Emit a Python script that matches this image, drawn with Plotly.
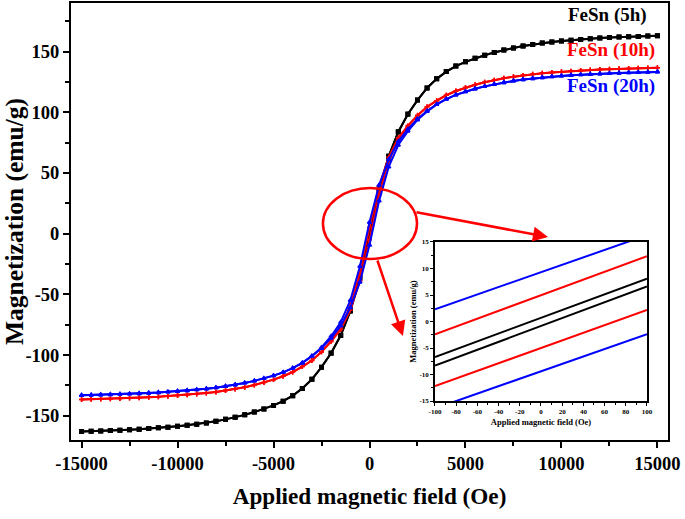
import plotly.graph_objects as go

# Applied field grid (Oe)
field = [-15000, -14500, -14000, -13500, -13000, -12500, -12000, -11500, -11000, -10500,
         -10000, -9500, -9000, -8500, -8000, -7500, -7000, -6500, -6000, -5500,
         -5000, -4500, -4000, -3500, -3000, -2500, -2000, -1500, -1000, -500,
         0,
         500, 1000, 1500, 2000, 2500, 3000, 3500, 4000, 4500, 5000,
         5500, 6000, 6500, 7000, 7500, 8000, 8500, 9000, 9500, 10000,
         10500, 11000, 11500, 12000, 12500, 13000, 13500, 14000, 14500, 15000]

# FeSn (5h): descending and ascending branches (emu/g)
m5_down = [-163.0, -162.8, -162.5, -162.2, -161.9, -161.5, -161.1, -160.6, -160.0, -159.4,
           -158.7, -157.9, -157.0, -155.9, -154.6, -153.0, -151.3, -149.3, -147.0, -144.5,
           -141.5, -138.0, -133.5, -127.5, -120.0, -110.0, -98.3, -83.7, -63.4, -35.8,
           0.7,
           37.0, 64.0, 84.0, 98.5, 110.0, 120.0, 127.5, 133.5, 138.0, 141.5,
           144.5, 147.0, 149.3, 151.3, 153.0, 154.6, 155.9, 157.0, 157.9, 158.7,
           159.4, 160.0, 160.6, 161.1, 161.5, 161.9, 162.2, 162.5, 162.8, 163.0]
m5_up = [-163.0, -162.8, -162.5, -162.2, -161.9, -161.5, -161.1, -160.6, -160.0, -159.4,
         -158.7, -157.9, -157.0, -155.9, -154.6, -153.0, -151.3, -149.3, -147.0, -144.5,
         -141.5, -138.0, -133.5, -127.5, -120.0, -110.0, -98.5, -84.0, -64.0, -37.0,
         -0.8,
         35.8, 63.4, 83.7, 98.3, 110.0, 120.0, 127.5, 133.5, 138.0, 141.5,
         144.5, 147.0, 149.3, 151.3, 153.0, 154.6, 155.9, 157.0, 157.9, 158.7,
         159.4, 160.0, 160.6, 161.1, 161.5, 161.9, 162.2, 162.5, 162.8, 163.0]

# FeSn (10h)
m10_down = [-136.7, -136.5, -136.3, -136.1, -135.8, -135.5, -135.2, -134.8, -134.4, -133.9,
            -133.4, -132.8, -132.1, -131.3, -130.4, -129.3, -128.0, -126.5, -124.7, -122.6,
            -120.3, -117.5, -114.0, -109.5, -104.5, -97.2, -88.3, -77.5, -59.5, -32.0,
            5.0,
            39.0, 63.0, 79.0, 89.0, 97.5, 104.5, 109.5, 114.0, 117.5, 120.3,
            122.6, 124.7, 126.5, 128.0, 129.3, 130.4, 131.3, 132.1, 132.8, 133.4,
            133.9, 134.4, 134.8, 135.2, 135.5, 135.8, 136.1, 136.3, 136.5, 136.7]
m10_up = [-136.7, -136.5, -136.3, -136.1, -135.8, -135.5, -135.2, -134.8, -134.4, -133.9,
          -133.4, -132.8, -132.1, -131.3, -130.4, -129.3, -128.0, -126.5, -124.7, -122.6,
          -120.3, -117.5, -114.0, -109.5, -104.5, -97.5, -89.0, -79.0, -63.0, -39.0,
          -5.0,
          32.0, 59.5, 77.5, 88.3, 97.2, 104.5, 109.5, 114.0, 117.5, 120.3,
          122.6, 124.7, 126.5, 128.0, 129.3, 130.4, 131.3, 132.1, 132.8, 133.4,
          133.9, 134.4, 134.8, 135.2, 135.5, 135.8, 136.1, 136.3, 136.5, 136.7]

# FeSn (20h)
m20_down = [-133.2, -133.0, -132.8, -132.6, -132.3, -132.0, -131.7, -131.3, -130.9, -130.4,
            -129.9, -129.3, -128.6, -127.8, -126.9, -125.8, -124.5, -123.0, -121.3, -119.3,
            -117.0, -114.3, -110.8, -106.5, -100.7, -93.8, -84.5, -73.0, -55.0, -27.0,
            9.3,
            40.0, 61.0, 76.0, 86.0, 94.5, 101.0, 106.5, 110.8, 114.3, 117.0,
            119.3, 121.3, 123.0, 124.5, 125.8, 126.9, 127.8, 128.6, 129.3, 129.9,
            130.4, 130.9, 131.3, 131.7, 132.0, 132.3, 132.6, 132.8, 133.0, 133.2]
m20_up = [-133.2, -133.0, -132.8, -132.6, -132.3, -132.0, -131.7, -131.3, -130.9, -130.4,
          -129.9, -129.3, -128.6, -127.8, -126.9, -125.8, -124.5, -123.0, -121.3, -119.3,
          -117.0, -114.3, -110.8, -106.5, -101.0, -94.5, -86.0, -76.0, -61.0, -40.0,
          -9.4,
          27.0, 55.0, 73.0, 84.5, 93.8, 100.7, 106.5, 110.8, 114.3, 117.0,
          119.3, 121.3, 123.0, 124.5, 125.8, 126.9, 127.8, 128.6, 129.3, 129.9,
          130.4, 130.9, 131.3, 131.7, 132.0, 132.3, 132.6, 132.8, 133.0, 133.2]

# inset: low-field zoom
field_in = [-100, -50, 0, 50, 100]
in5_down = [-6.7, -3.0, 0.7, 4.4, 8.1]
in5_up = [-8.3, -4.6, -0.8, 2.9, 6.6]
in10_down = [-2.4, 1.3, 5.0, 8.6, 12.3]
in10_up = [-12.2, -8.6, -5.0, -1.4, 2.2]
in20_down = [2.3, 5.8, 9.3, 12.8, 16.3]
in20_up = [-16.4, -12.9, -9.4, -5.9, -2.4]

# tick values / labels
x_ticks = [-15000, -10000, -5000, 0, 5000, 10000, 15000]
x_ticklabels = ['-15000', '-10000', '-5000', '0', '5000', '10000', '15000']
y_ticks = [-150, -100, -50, 0, 50, 100, 150]
y_ticklabels = ['-150', '-100', '-50', '0', '50', '100', '150']
xin_ticks = [-100, -80, -60, -40, -20, 0, 20, 40, 60, 80, 100]
xin_ticklabels = ['-100', '-80', '-60', '-40', '-20', '0', '20', '40', '60', '80', '100']
yin_ticks = [-15, -10, -5, 0, 5, 10, 15]
yin_ticklabels = ['-15', '-10', '-5', '0', '5', '10', '15']

labels = ['FeSn (5h)', 'FeSn (10h)', 'FeSn (20h)']
colors = ['#000000', '#ff0000', '#0000ff']
symbols = ['square', 'cross-thin', 'triangle-up']

FONT = 'Liberation Serif'

fig = go.Figure()

main = [(m5_down, m5_up), (m10_down, m10_up), (m20_down, m20_up)]
for i, (down, up) in enumerate(main):
    for branch in (down, up):
        fig.add_trace(go.Scatter(
            x=field, y=branch, mode='lines+markers',
            line=dict(color=colors[i], width=2),
            marker=dict(symbol=symbols[i], size=3.5, color=colors[i],
                        line=dict(color=colors[i], width=1.5)),
            showlegend=False, hoverinfo='skip'))

inset = [(in5_down, in5_up), (in10_down, in10_up), (in20_down, in20_up)]
for i, (down, up) in enumerate(inset):
    for branch in (down, up):
        fig.add_trace(go.Scatter(
            x=field_in, y=branch, mode='lines', xaxis='x2', yaxis='y2',
            line=dict(color=colors[i], width=2),
            showlegend=False, hoverinfo='skip'))

axis_common = dict(showline=True, linecolor='black', mirror=True, ticks='outside',
                   tickcolor='black', showgrid=False, zeroline=False, automargin=False,
                   tickmode='array')

fig.update_layout(
    width=685, height=519,
    margin=dict(l=71, r=17, t=3, b=79),
    paper_bgcolor='white', plot_bgcolor='white',
    font=dict(family=FONT, color='black'),
    xaxis=dict(**axis_common, range=[-15550, 15550], tickvals=x_ticks, ticktext=x_ticklabels,
               linewidth=2, ticklen=6, tickwidth=1.5,
               minor=dict(dtick=2500, ticks='outside', ticklen=4, tickcolor='black', tickwidth=1.5),
               tickfont=dict(size=18.5, weight='bold'),
               title=dict(text='Applied magnetic field (Oe)',
                          font=dict(size=23.2, weight='bold'), standoff=15)),
    yaxis=dict(**axis_common, range=[-170, 190], tickvals=y_ticks, ticktext=y_ticklabels,
               linewidth=2, ticklen=6, tickwidth=1.5,
               minor=dict(dtick=25, ticks='outside', ticklen=4, tickcolor='black', tickwidth=1.5),
               tickfont=dict(size=18.5, weight='bold'),
               title=dict(text='Magnetization (emu/g)',
                          font=dict(size=25.5, weight='bold'), standoff=1)),
    xaxis2=dict(**axis_common, domain=[0.6097, 0.9648], anchor='y2', range=[-100, 100],
                tickvals=xin_ticks, ticktext=xin_ticklabels,
                linewidth=1.5, ticklen=3, tickwidth=1,
                minor=dict(dtick=10, ticks='outside', ticklen=2, tickcolor='black'),
                tickfont=dict(size=7, weight='bold'),
                title=dict(text='Applied magnetic field (Oe)',
                           font=dict(size=8.5, weight='bold'), standoff=4)),
    yaxis2=dict(**axis_common, domain=[0.0892, 0.4531], anchor='x2', range=[-15, 15],
                tickvals=yin_ticks, ticktext=yin_ticklabels,
                linewidth=1.5, ticklen=3, tickwidth=1,
                minor=dict(dtick=2.5, ticks='outside', ticklen=2, tickcolor='black'),
                tickfont=dict(size=7, weight='bold'),
                title=dict(text='Magnetization (emu/g)',
                           font=dict(size=8.5, weight='bold'), standoff=2)),
)

# sample labels
label_pos = [(0.968, 0.9725), (0.9816, 0.8924), (0.9816, 0.81)]
for i, (lx, ly) in enumerate(label_pos):
    fig.add_annotation(x=lx, y=ly, xref='paper', yref='paper', xanchor='right', yanchor='middle',
                       text=labels[i], showarrow=False,
                       font=dict(size=19, color=colors[i], weight='bold'))

# ellipse around the origin and the arrows pointing at the inset
fig.add_shape(type='circle', xref='paper', yref='paper',
              x0=0.422, x1=0.5796, y0=0.4142, y1=0.5767,
              line=dict(color='#ff0000', width=2.5))
fig.add_annotation(x=0.799, y=0.4645, xref='paper', yref='paper', ax=-133, ay=-25,
                   text='', showarrow=True, arrowhead=2, arrowsize=1.2, arrowwidth=2.5,
                   arrowcolor='#ff0000')
fig.add_annotation(x=0.556, y=0.238, xref='paper', yref='paper', ax=-26, ay=-77,
                   text='', showarrow=True, arrowhead=2, arrowsize=1.2, arrowwidth=2.5,
                   arrowcolor='#ff0000')

# drop the default page margin so the figure sits at the window's top-left corner
fig.write_html('out.html', config={'displayModeBar': False},
               post_script="document.body.style.margin='0';")
